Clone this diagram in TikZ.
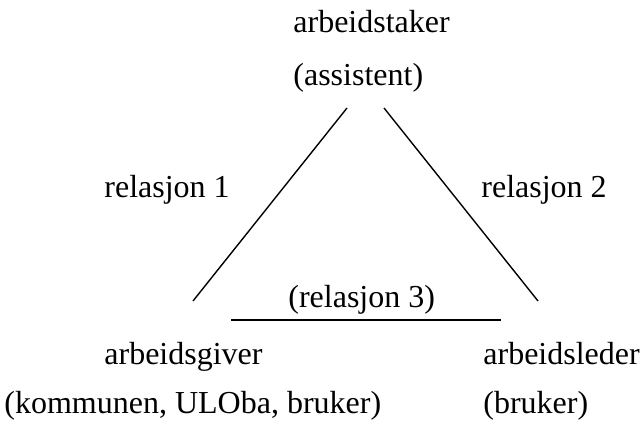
\documentclass[tikz,border=0pt]{standalone}
\usepackage{fontspec}
\setmainfont{Liberation Serif}

\begin{document}
\begin{tikzpicture}[x=0.5pt,y=-0.5pt]
\tikzset{lbl/.style={inner sep=0pt,anchor=base west,font=\fontsize{16}{19}\selectfont}}
\useasboundingbox (0,0) rectangle (642,426);
\node[lbl] (staker) at (293,33) {arbeidstaker};
\node[lbl] (assistent) at (293,86) {(assistent)};
\node[lbl] (rel1) at (104,198) {relasjon 1};
\node[lbl] (rel2) at (481,198) {relasjon 2};
\node[lbl] (rel3) at (288,308) {(relasjon 3)};
\node[lbl] (giver) at (104,365) {arbeidsgiver};
\node[lbl] (kommunen) at (4,414) {(kommunen, ULOba, bruker)};
\node[lbl] (leder) at (483,365) {arbeidsleder};
\node[lbl] (bruker) at (483,414) {(bruker)};
\coordinate (t1) at (347,108);
\coordinate (t2) at (384,108);
\coordinate (g1) at (193,301);
\coordinate (g2) at (231,320);
\coordinate (l1) at (538,301);
\coordinate (l2) at (501,320);
\draw[line width=0.7pt] (t1) -- (g1);
\draw[line width=0.7pt] (t2) -- (l1);
\draw[line width=0.7pt] (g2) -- (l2);
\end{tikzpicture}
\end{document}
